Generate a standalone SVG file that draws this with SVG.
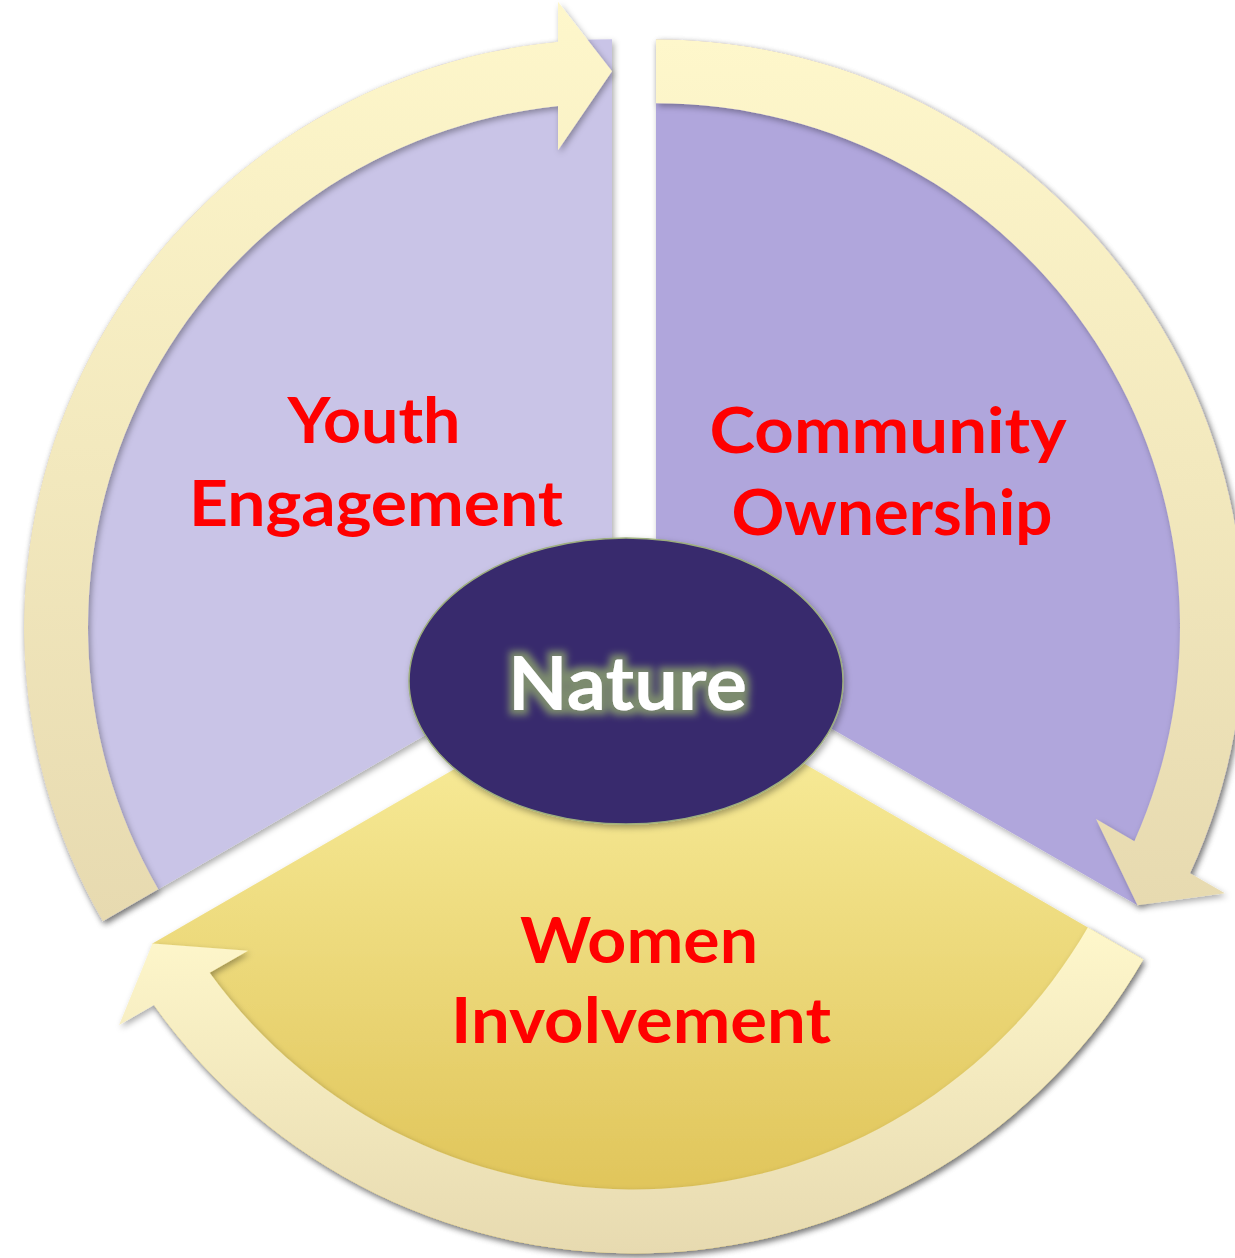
<svg xmlns="http://www.w3.org/2000/svg" width="1235" height="1258" viewBox="0 0 1235 1258">
  <defs>
    <linearGradient id="bandGrad" x1="0" y1="0" x2="0" y2="1">
      <stop offset="0" stop-color="#FEF7CB"/>
      <stop offset="1" stop-color="#E7DAB0"/>
    </linearGradient>
    <linearGradient id="womenGrad" gradientUnits="userSpaceOnUse" x1="0" y1="665" x2="0" y2="1253">
      <stop offset="0" stop-color="#FBF1A2"/>
      <stop offset="1" stop-color="#DDC052"/>
    </linearGradient>
    <filter id="shadow" x="-10%" y="-10%" width="120%" height="120%">
      <feDropShadow dx="2" dy="3" stdDeviation="3" flood-color="#000" flood-opacity="0.33"/>
    </filter>
    <filter id="glow" x="-20%" y="-40%" width="140%" height="180%">
      <feMorphology in="SourceAlpha" operator="dilate" radius="5" result="d"/>
      <feGaussianBlur in="d" stdDeviation="3.5" result="b"/>
      <feFlood flood-color="#7C8B6E" result="c"/>
      <feComposite in="c" in2="b" operator="in" result="g"/>
      <feMerge>
        <feMergeNode in="g"/>
        <feMergeNode in="SourceGraphic"/>
      </feMerge>
    </filter>
  </defs>
  <style>
    .label { font-family: Lato, "Liberation Sans", sans-serif; font-weight: bold; font-size: 64px; fill: #FF0000; text-anchor: middle; }
    .center { font-family: Lato, "Liberation Sans", sans-serif; font-weight: bold; font-size: 74px; fill: #FFFFFF; text-anchor: middle; }
    .sector { filter: url(#shadow); }
    .band { fill: url(#bandGrad); filter: url(#shadow); }
  </style>

  <g id="youth-engagement">
    <path class="sector" fill="#C9C4E7" d="M612,627.3 L102.8,921.3 A588,588 0 0 1 612,39.3 Z"/>
  </g>
  <g id="community-ownership">
    <path class="sector" fill="#B0A6DC" d="M656,627.3 L656,39.3 A588,588 0 0 1 1190.06,873.29 L1137.51,905.3 Z"/>
  </g>
  <g id="women-involvement">
    <path class="sector" fill="url(#womenGrad)" d="M634,665.4 L1143.2,959.4 A588,588 0 0 1 153.94,1004.93 L152.49,943.4 Z"/>
  </g>

  <g id="connectors">
    <path class="band" d="M102.78,921.3 A588,588 0 0 1 558,41.8 L558,1.63 L612,71.3 L558,150.35 L558,106.09 A524,524 0 0 0 158.2,889.3 Z"/>
    <path class="band" d="M656,39.3 A588,588 0 0 1 1190.06,873.29 L1224.85,893.37 L1137.51,905.3 L1096.05,819.01 L1134.38,841.14 A524,524 0 0 0 656,103.3 Z"/>
    <path class="band" d="M1143.22,959.4 A588,588 0 0 1 153.94,1004.93 L119.15,1025.01 L152.49,943.4 L247.95,950.65 L209.62,972.78 A524,524 0 0 0 1087.8,927.4 Z"/>
  </g>

  <g id="youth-engagement-label">
    <text class="label" x="374" y="443" textLength="173" lengthAdjust="spacingAndGlyphs">Youth</text>
    <text class="label" x="376" y="526" textLength="374" lengthAdjust="spacingAndGlyphs">Engagement</text>
  </g>
  <g id="community-ownership-label">
    <text class="label" x="888" y="453" textLength="357" lengthAdjust="spacingAndGlyphs">Community</text>
    <text class="label" x="892" y="535" textLength="321" lengthAdjust="spacingAndGlyphs">Ownership</text>
  </g>
  <g id="women-involvement-label">
    <text class="label" x="639" y="963" textLength="238" lengthAdjust="spacingAndGlyphs">Women</text>
    <text class="label" x="641" y="1043" textLength="380" lengthAdjust="spacingAndGlyphs">Involvement</text>
  </g>

  <g id="nature">
    <ellipse cx="626" cy="681" rx="217" ry="143" fill="#392A6D" stroke="#9DAE7E" stroke-width="1.5" filter="url(#shadow)"/>
    <text class="center" x="627.5" y="710" textLength="239" lengthAdjust="spacingAndGlyphs" filter="url(#glow)">Nature</text>
  </g>
</svg>
